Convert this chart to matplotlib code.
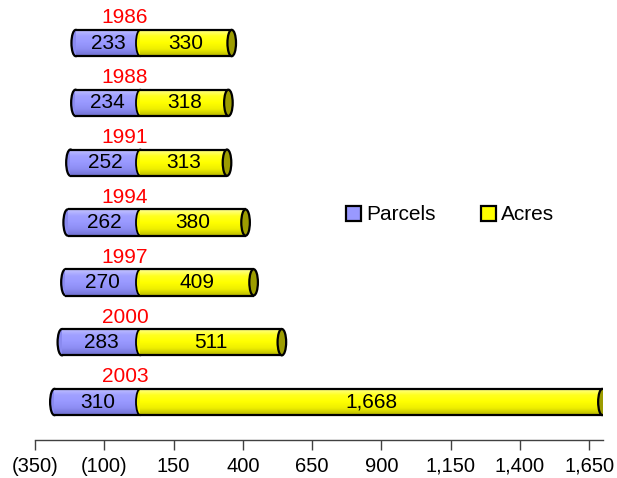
import numpy as np
import matplotlib
matplotlib.use('Agg')
from matplotlib import pyplot as plt
from matplotlib.patches import Ellipse, Patch
from matplotlib.colors import LinearSegmentedColormap

plt.rcParams['font.family'] = ['Liberation Sans', 'DejaVu Sans']

years = ['1986', '1988', '1991', '1994', '1997', '2000', '2003']
parcels = [233, 234, 252, 262, 270, 283, 310]
acres = [330, 318, 313, 380, 409, 511, 1668]
tick_vals = [-350, -100, 150, 400, 650, 900, 1150, 1400, 1650]

depth = 30        # 3d depth shift of the bars, data units
bar_h = 0.44
cap_w = 31        # width of the cylinder end ellipse, data units
fs = 15

blue_cmap = LinearSegmentedColormap.from_list(
    'b', ['#c4c4ff', '#a0a0ff', '#9999ff', '#8c8cf2', '#7070d0'])
yellow_cmap = LinearSegmentedColormap.from_list(
    'y', ['#ffff9a', '#ffff20', '#ffff00', '#eeee00', '#b8b800'])
grad = np.linspace(0, 1, 64).reshape(-1, 1)

fig = plt.figure(figsize=(6.17, 4.78), dpi=100)
ax = fig.add_axes([35 / 617, 1 - 440 / 478, 568 / 617, 440 / 478])

n = len(years)
ypos = np.arange(n)[::-1]
left_p = [depth - p for p in parcels]

bp = ax.barh(ypos, parcels, left=left_p, height=bar_h,
             color='#9999ff', edgecolor='none', zorder=3)
ba = ax.barh(ypos, acres, left=depth, height=bar_h,
             color='#ffff00', edgecolor='none', zorder=4)

for i in range(n):
    y = ypos[i]
    p, a = parcels[i], acres[i]
    # gradients clipped to bar bodies
    for rect, cm, z in ((bp[i], blue_cmap, 3.1), (ba[i], yellow_cmap, 4.1)):
        x0, w = rect.get_x(), rect.get_width()
        im = ax.imshow(grad, extent=[x0, x0 + w, y - bar_h / 2, y + bar_h / 2],
                       aspect='auto', cmap=cm, origin='upper', zorder=z,
                       interpolation='bilinear')
        im.set_clip_path(rect)
    # left rounded end of parcels
    ax.add_patch(Ellipse((depth - p, y), cap_w, bar_h, facecolor='#8a8af0',
                         edgecolor='black', lw=1.6, zorder=2))
    # acres left end curve over parcels
    ax.add_patch(Ellipse((depth, y), cap_w, bar_h, facecolor='#f2f200',
                         edgecolor='black', lw=1.3, zorder=3.5))
    # right end cap
    ax.add_patch(Ellipse((depth + a, y), cap_w, bar_h, facecolor='#9c9c00',
                         edgecolor='black', lw=1.6, zorder=5))
    ax.hlines([y - bar_h / 2, y + bar_h / 2], depth - p, depth + a,
              colors='black', lw=1.6, zorder=4.5)
    ax.text(depth - p / 2, y, f'{p:,}', ha='center', va='center',
            fontsize=fs, color='black', zorder=6)
    ax.text(depth + a / 2, y, f'{a:,}', ha='center', va='center',
            fontsize=fs, color='black', zorder=6)
    ax.text(-25, y + 0.42, years[i], ha='center', va='center',
            fontsize=fs, color='#ff0000', zorder=6)

ax.set_xlim(-350, 1700)
ax.set_ylim(-0.635, 6 + 43 / 59.8)

for s in ('top', 'right', 'left'):
    ax.spines[s].set_visible(False)
ax.spines['bottom'].set_color('#404040')
ax.spines['bottom'].set_linewidth(1.0)
ax.set_yticks([])
ax.set_xticks(tick_vals)
ax.set_xticklabels([f'({-v:,})' if v < 0 else f'{v:,}' for v in tick_vals],
                   fontsize=14.5)
ax.tick_params(axis='x', direction='out', length=7, width=1.0,
               color='#404040', pad=5)

handles = [Patch(facecolor='#9999ff', edgecolor='black', lw=1.6),
           Patch(facecolor='#ffff00', edgecolor='black', lw=1.6)]
fig.legend(handles, ['Parcels', 'Acres'], loc='center left',
           bbox_to_anchor=(346 / 617, 1 - 215 / 478), ncol=2, frameon=False,
           fontsize=fs, handlelength=0.7, handleheight=0.7,
           handletextpad=0.25, columnspacing=2.2, borderpad=0,
           borderaxespad=0)

fig.savefig('out.png', dpi=100)
